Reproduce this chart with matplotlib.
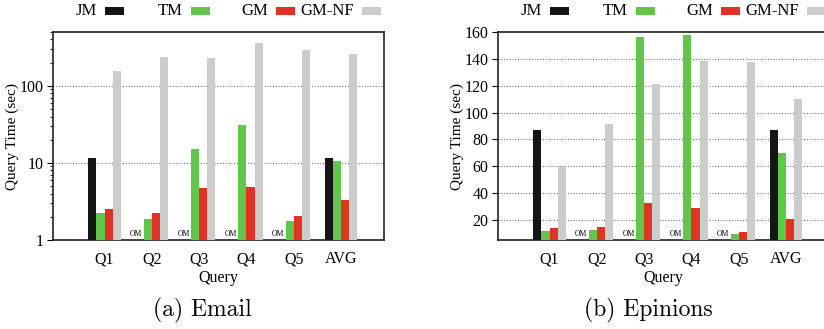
import numpy as np
import matplotlib
matplotlib.use("Agg")
import matplotlib.pyplot as plt
from matplotlib.patches import Rectangle
from matplotlib.ticker import LogLocator, NullFormatter, FixedLocator

plt.rcParams["font.family"] = ["Liberation Serif", "DejaVu Serif"]

# ── data ─────────────────────────────────────────────────────────────────────
queries = ["Q1", "Q2", "Q3", "Q4", "Q5", "AVG"]
methods = ["JM", "TM", "GM", "GM-NF"]

# Email (log scale), None = OM (out of memory)
email_jm   = [11.7, None, None, None, None, 11.7]
email_tm   = [2.25, 1.85, 15.2, 31.1, 1.76, 10.5]
email_gm   = [2.49, 2.25, 4.79, 4.87, 2.04, 3.28]
email_gmnf = [156, 237, 230, 359, 292, 257]

# Epinions (linear)
epi_jm   = [86.9, None, None, None, None, 86.9]
epi_tm   = [11.8, 12.6, 156.3, 157.8, 9.6, 69.6]
epi_gm   = [13.8, 14.6, 32.4, 28.7, 11.3, 20.5]
epi_gmnf = [59.6, 91.4, 120.9, 138.2, 137.5, 109.7]

COLORS = ["#151515", "#62c64a", "#e03225", "#cccccc"]

# ── layout ───────────────────────────────────────────────────────────────────
W, H = 824, 329
fig = plt.figure(figsize=(W / 100, H / 100), dpi=100)

def px(x0, y0, w, h):
    return [x0 / W, 1 - (y0 + h) / H, w / W, h / H]

ax_l = fig.add_axes(px(53, 32, 331, 208))
ax_r = fig.add_axes(px(498, 32, 331, 208))

bw = 0.173
x = np.arange(len(queries))

def draw(ax, series, bottom):
    for k, vals in enumerate(series):
        off = (k - 1.5) * bw
        for i, v in enumerate(vals):
            if v is None:
                ax.text(x[i] + off - 0.07, 0.012, "OM", fontsize=5.5,
                        ha="center", va="bottom",
                        transform=ax.get_xaxis_transform())
                continue
            ax.bar(x[i] + off, v - bottom, bw, bottom=bottom,
                   color=COLORS[k], linewidth=0, zorder=3)
    ax.set_xlim(-1.09, 5.91)
    ax.set_xticks(x)
    ax.set_xticklabels(queries, fontsize=11.5)
    ax.tick_params(axis="x", length=0, pad=8)
    ax.tick_params(axis="y", direction="out", labelsize=11.5, pad=3, length=4,
                   width=0.8)
    ax.tick_params(axis="y", which="minor", direction="out", length=2.5,
                   width=0.6)
    ax.set_xlabel("Query", fontsize=11.5, labelpad=2)
    ax.set_ylabel("Query Time (sec)", fontsize=11, labelpad=0)
    for s in ax.spines.values():
        s.set_linewidth(1.2)
        s.set_color("#222222")
    ax.spines["right"].set_visible(ax is ax_l)

# left: Email
draw(ax_l, [email_jm, email_tm, email_gm, email_gmnf], 1)
ax_l.set_yscale("log")
ax_l.set_ylim(1, 500)
ax_l.yaxis.set_major_locator(FixedLocator([1, 10, 100]))
ax_l.set_yticklabels(["1", "10", "100"])
ax_l.yaxis.set_minor_locator(LogLocator(base=10, subs=np.arange(2, 10)))
ax_l.yaxis.set_minor_formatter(NullFormatter())
for g in [10, 100]:
    ax_l.axhline(g, color="#777777", lw=0.8, ls=(0, (1, 1.5)), zorder=1)

# right: Epinions
draw(ax_r, [epi_jm, epi_tm, epi_gm, epi_gmnf], 5)
ax_r.set_ylim(5, 160)
ax_r.set_yticks(np.arange(20, 161, 20))
for g in np.arange(20, 141, 20):
    ax_r.axhline(g, color="#777777", lw=0.8, ls=(0, (1, 1.5)), zorder=1)

# legends (gnuplot style: label then sample)
box_x = [105, 191, 276, 362]
for dx in [0, 445]:
    for k, name in enumerate(methods):
        bx = box_x[k] + dx
        fig.text((bx - 8) / W, 1 - 11 / H, name, ha="right", va="center",
                 fontsize=12)
        fig.patches.append(Rectangle((bx / W, 1 - 15 / H), 19 / W, 8 / H,
                                     transform=fig.transFigure,
                                     facecolor=COLORS[k], edgecolor="none"))

# captions
fig.text(202 / W, 1 - 310 / H, "(a) Email", ha="center", va="center",
         fontsize=17, family="cmr10")
fig.text(648 / W, 1 - 310 / H, "(b) Epinions", ha="center", va="center",
         fontsize=17, family="cmr10")

fig.savefig("out.png", dpi=100)
